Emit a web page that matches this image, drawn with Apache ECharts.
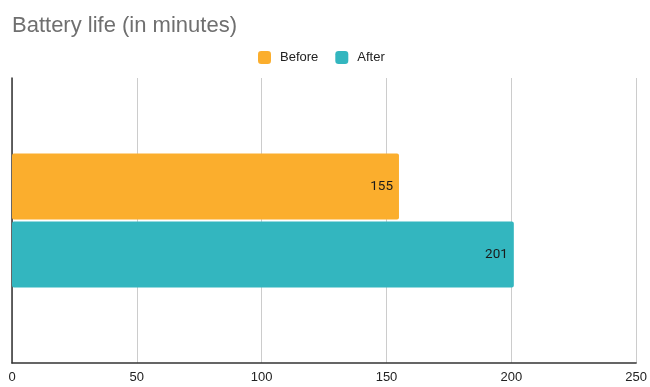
<!DOCTYPE html>
<html><head><meta charset="utf-8">
<script src="https://cdn.jsdelivr.net/npm/echarts@6/dist/echarts.min.js"></script>
<style>html,body{margin:0;padding:0;background:#fff}#c{width:650px;height:387px}</style>
</head><body><div id="c"></div>
<script>
const categories = ['Battery life'];
const beforeValues = [155];
const afterValues = [201];
const seriesNames = ['Before', 'After'];
const xTicks = [0, 50, 100, 150, 200, 250];

const chart = echarts.init(document.getElementById('c'), null, {renderer: 'canvas'});
const labelStyle = {show: true, position: 'insideRight', color: '#1a1a1a', fontSize: 13.5, fontFamily: 'Roboto', distance: 6};
chart.setOption({
  animation: false,
  title: {text: 'Battery life (in minutes)', left: 7, top: 10, textStyle: {fontFamily: 'Arial, Liberation Sans', fontSize: 22, fontWeight: 'normal', color: '#6f6f6f'}},
  legend: {data: seriesNames, top: 46, left: 253, itemWidth: 13, itemHeight: 13, itemGap: 17, icon: 'roundRect',
    textStyle: {fontFamily: 'Arial, Liberation Sans', fontSize: 13, color: '#222', padding: [0, 0, 0, 4]}},
  grid: {left: 12, right: 13, top: 78, bottom: 24, containLabel: false},
  xAxis: {type: 'value', min: xTicks[0], max: xTicks[xTicks.length-1], interval: 50,
    axisLine: {show: true, onZero: false, lineStyle: {color: '#333', width: 1.5}},
    axisTick: {show: false},
    splitLine: {show: true, lineStyle: {color: '#cccccc', width: 1}},
    axisLabel: {color: '#222', fontSize: 13, fontFamily: 'Arial, Liberation Sans', margin: 8,
      formatter: v => xTicks.includes(v) ? String(v) : ''}},
  yAxis: {type: 'category', data: categories, inverse: true,
    axisLine: {show: true, lineStyle: {color: '#333', width: 1.5}},
    axisTick: {show: false}, axisLabel: {show: false}},
  series: [
    {name: seriesNames[0], type: 'bar', data: beforeValues, barWidth: 66, barGap: '3%',
      itemStyle: {color: '#fbae2d', borderRadius: 2}, label: labelStyle},
    {name: seriesNames[1], type: 'bar', data: afterValues, barWidth: 66, barGap: '3%',
      itemStyle: {color: '#33b6bf', borderRadius: 2}, label: labelStyle}
  ]
});
</script></body></html>
